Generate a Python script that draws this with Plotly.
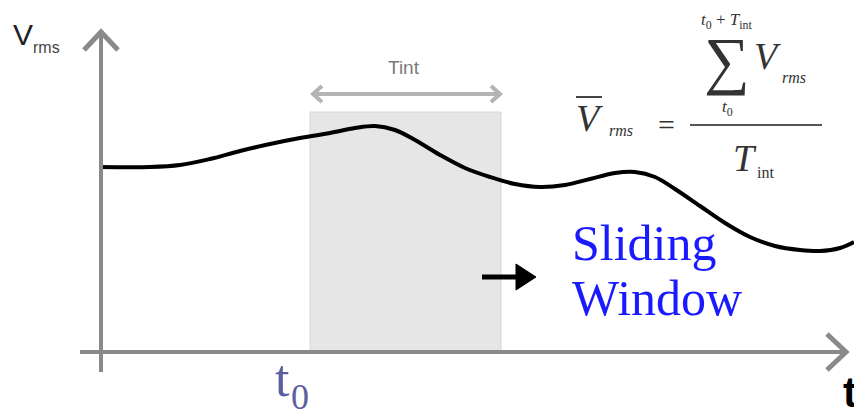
import plotly.graph_objects as go

# ---- data (time t, rms voltage v), origin at the axes' crossing ----
t_vals = [0, 50, 80, 110, 140, 170, 200, 230, 255, 275, 295, 315, 340, 365, 390,
          415, 440, 465, 490, 515, 535, 555, 575, 600, 625, 650, 675, 700, 720, 740, 754]
v_vals = [185, 185, 187, 193, 201, 208, 214, 219, 224, 226, 222, 212, 197, 184, 175,
          168, 165, 167, 173, 179, 180, 175, 163, 146, 129, 115, 106, 102, 101, 104, 110]
window_start = [210]      # t0
window_width = [191]      # Tint
window_height = [240]

W, H = 854, 414
X0, Y0 = 100, 352  # pixel position of origin


def dx(px):
    return px - X0


def dy(py):
    return Y0 - py


fig = go.Figure()

t0 = window_start[0]
tint = window_width[0]

shapes = []
# sliding window rectangle
shapes.append(dict(type="rect", xref="x", yref="y", x0=t0, x1=t0 + tint, y0=0, y1=window_height[0],
                   fillcolor="#e6e6e6", line=dict(color="#d6d6d6", width=1), layer="below"))

axis_col = "#8a8a8a"
# y axis
shapes.append(dict(type="line", xref="x", yref="y", x0=dx(101), x1=dx(101), y0=dy(372), y1=dy(33),
                   line=dict(color=axis_col, width=4)))
shapes.append(dict(type="path", xref="x", yref="y",
                   path=f"M {dx(84)},{dy(50)} L {dx(101)},{dy(32)} L {dx(118)},{dy(50)}",
                   line=dict(color=axis_col, width=5)))
# x axis
shapes.append(dict(type="line", xref="x", yref="y", x0=dx(80), x1=dx(846), y0=dy(352), y1=dy(352),
                   line=dict(color=axis_col, width=4)))
shapes.append(dict(type="path", xref="x", yref="y",
                   path=f"M {dx(827)},{dy(334)} L {dx(846)},{dy(352)} L {dx(827)},{dy(370)}",
                   line=dict(color=axis_col, width=5)))

# Tint double arrow
tc = "#b4b4b4"
shapes.append(dict(type="line", xref="x", yref="y", x0=t0 + 3, x1=t0 + tint - 1, y0=dy(94), y1=dy(94),
                   line=dict(color=tc, width=4)))
shapes.append(dict(type="path", xref="x", yref="y",
                   path=f"M {t0+12},{dy(86)} L {t0+3},{dy(94)} L {t0+12},{dy(102)}",
                   line=dict(color=tc, width=4)))
shapes.append(dict(type="path", xref="x", yref="y",
                   path=f"M {t0+tint-10},{dy(86)} L {t0+tint-1},{dy(94)} L {t0+tint-10},{dy(102)}",
                   line=dict(color=tc, width=4)))

# black sliding arrow
shapes.append(dict(type="line", xref="x", yref="y", x0=dx(482), x1=dx(520), y0=dy(277), y1=dy(277),
                   line=dict(color="black", width=5)))
shapes.append(dict(type="path", xref="x", yref="y",
                   path=f"M {dx(516)},{dy(264)} L {dx(536)},{dy(277)} L {dx(516)},{dy(290)} Z",
                   fillcolor="black", line=dict(color="black", width=1)))

# formula fraction bar and V bar
shapes.append(dict(type="line", xref="x", yref="y", x0=dx(690), x1=dx(822), y0=dy(125), y1=dy(125),
                   line=dict(color="#555555", width=2)))
shapes.append(dict(type="line", xref="x", yref="y", x0=dx(576), x1=dx(602), y0=dy(97), y1=dy(97),
                   line=dict(color="#444444", width=2)))

fig.add_trace(go.Scatter(x=t_vals, y=v_vals, mode="lines", line=dict(color="black", width=4, shape="spline", smoothing=1.0),
                         hoverinfo="skip", showlegend=False))

anns = []


def txt(px, py, text, size, color, family, xanchor="center"):
    anns.append(dict(x=dx(px), y=dy(py), xref="x", yref="y", text=text, showarrow=False,
                     font=dict(size=size, color=color, family=family), xanchor=xanchor, yanchor="middle"))


serif = "Liberation Serif"
sans = "Liberation Sans"
fc = "#333333"

txt(23, 34, "V", 30, "#222222", sans)
txt(46, 47, "rms", 16, "#444444", sans)
txt(404, 67, "Tint", 19, "#7a7a7a", sans)
txt(282, 378, "t", 52, "#5b5f9e", serif)
txt(300, 397, "0", 36, "#5b5f9e", serif)
txt(850, 392, "<b>t</b>", 42, "black", sans)
txt(570, 243, "Sliding", 50, "#1a1aff", serif, xanchor="left")
txt(570, 298, "Window", 50, "#1a1aff", serif, xanchor="left")

# formula
txt(589, 118, "<i>V</i>", 38, fc, serif)
txt(621, 130, "<i>rms</i>", 16, fc, serif)
txt(666, 124, "=", 30, fc, serif)
txt(726, 21, "<i>t</i><sub>0</sub> + <i>T</i><sub>int</sub>", 17, fc, serif)
txt(727, 60, "∑", 64, fc, serif)
txt(767, 56, "<i>V</i>", 38, fc, serif)
txt(794, 77, "<i>rms</i>", 16, fc, serif)
txt(727, 108, "<i>t</i><sub>0</sub>", 17, fc, serif)
txt(745, 158, "<i>T</i>", 38, fc, serif)
txt(765, 172, "int", 16, fc, serif)

fig.update_layout(
    width=W, height=H, margin=dict(l=0, r=0, t=0, b=0),
    paper_bgcolor="white", plot_bgcolor="white",
    xaxis=dict(range=[-X0, W - X0], visible=False, fixedrange=True),
    yaxis=dict(range=[Y0 - H, Y0], visible=False, fixedrange=True),
    shapes=shapes, annotations=anns, showlegend=False,
)

fig.write_html("out.html", config={"displayModeBar": False},
               post_script="document.body.style.margin='0';document.body.style.overflow='hidden';")
